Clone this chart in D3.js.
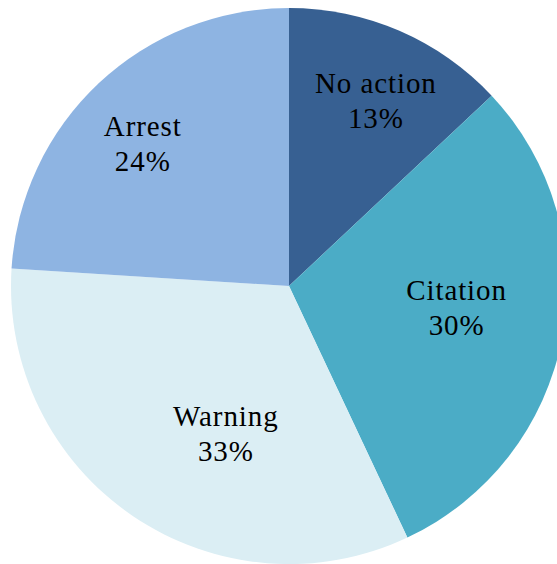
<!DOCTYPE html>
<html>
<head>
<meta charset="utf-8">
<script src="https://cdn.jsdelivr.net/npm/d3@7"></script>
<style>
  html, body { margin: 0; padding: 0; background: #fff; }
  svg { display: block; }
  .lbl { font-family: 'Liberation Serif', 'DejaVu Serif', 'Times New Roman', serif; font-size: 29px; letter-spacing: 0.9px; }
</style>
</head>
<body>
<div id="chart"></div>
<script>
var width = 557;
var height = 564;

// data
var categories = ['No action', 'Citation', 'Warning', 'Arrest'];
var shares = [13, 30, 33, 24];
var colors = ['#376092', '#4BACC6', '#DBEEF4', '#8EB4E2'];

// label placement, like the original "best fit": distance from centre and a small angle nudge (deg)
var labelRadius = [204, 169, 161, 204];
var labelNudge = [1.8, -3.3, -11.1, -2.6];

var cx = 289, cy = 286, radius = 278;

var rows = categories.map(function(c, i) {
  return {name: c, value: shares[i], color: colors[i], lr: labelRadius[i], nudge: labelNudge[i]};
});

var pie = d3.pie().value(d => d.value).sort(null);
var arcs = pie(rows);

var arc = d3.arc().innerRadius(0).outerRadius(radius);

var svg = d3.select('#chart')
  .append('svg')
    .attr('width', width)
    .attr('height', height);

var g = svg.append('g').attr('transform', 'translate(' + cx + ',' + cy + ')');

g.selectAll('path')
  .data(arcs)
  .join('path')
    .attr('fill', d => d.data.color)
    .attr('d', arc);

// labels: name on first line, percent below
var labels = g.selectAll('text')
  .data(arcs)
  .join('text')
    .attr('class', 'lbl')
    .attr('text-anchor', 'middle')
    .attr('fill', '#000')
    .attr('transform', function(d) {
      var a = (d.startAngle + d.endAngle) / 2 + d.data.nudge * Math.PI / 180;
      var r = d.data.lr;
      return 'translate(' + (Math.sin(a) * r) + ',' + (-Math.cos(a) * r) + ')';
    });

labels.append('tspan')
  .attr('x', 0)
  .attr('y', -8)
  .text(d => d.data.name);

labels.append('tspan')
  .attr('x', 0)
  .attr('y', 27)
  .text(d => d.data.value + '%');
</script>
</body>
</html>
